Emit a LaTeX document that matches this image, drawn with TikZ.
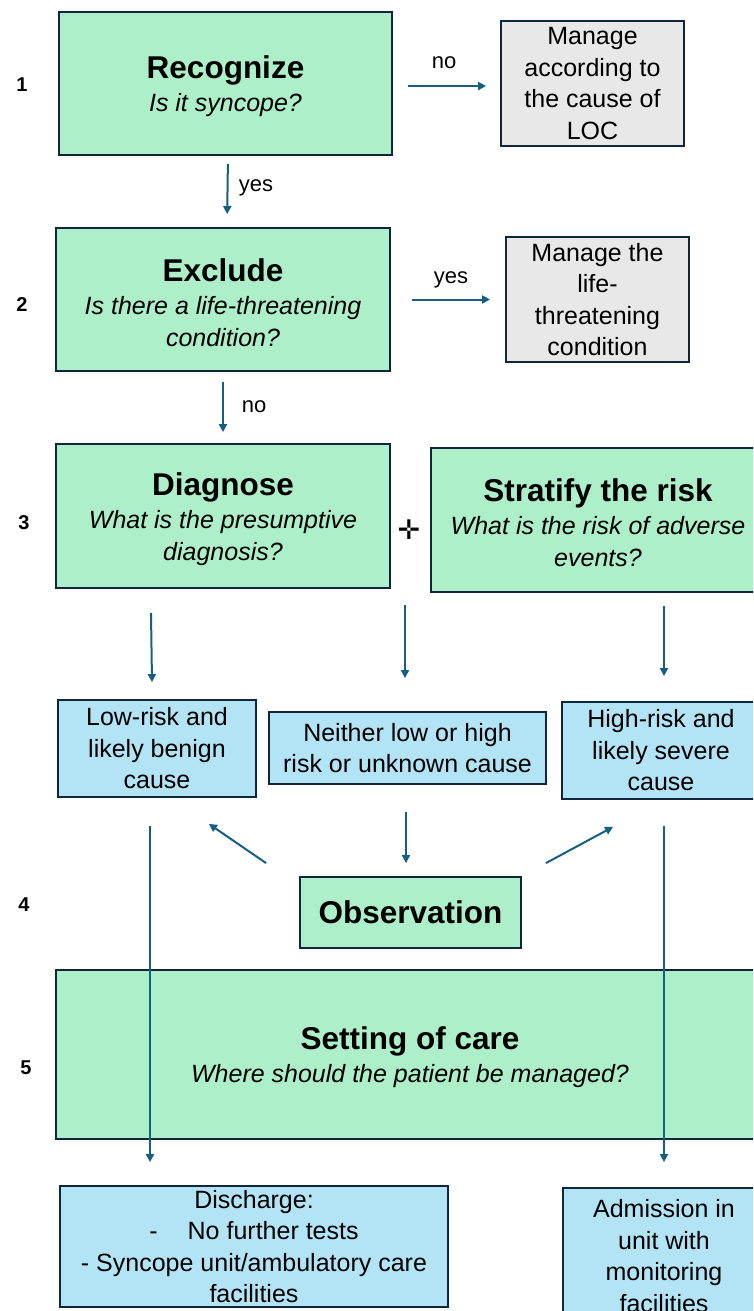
\documentclass[tikz,border=0pt]{standalone}
\usepackage{fontspec}
\setmainfont{Liberation Sans}
\newfontfamily\symfont{DejaVu Sans}
\usetikzlibrary{arrows.meta}
\definecolor{gfill}{HTML}{ADEFC8}
\definecolor{bfill}{HTML}{B3E4F5}
\definecolor{grfill}{HTML}{E8E8E8}
\definecolor{edge}{HTML}{10263B}
\definecolor{arrc}{HTML}{156082}
\tikzset{
  box/.style={draw=edge, line width=1.8pt, inner sep=0pt, align=center, text=black},
  gbox/.style={box, fill=gfill, font=\fontsize{25}{32}\selectfont\itshape},
  bbox/.style={box, fill=bfill, font=\fontsize{25}{31.5}\selectfont},
  greybox/.style={box, fill=grfill, font=\fontsize{25}{31.5}\selectfont},
  num/.style={font=\fontsize{20}{24}\selectfont\bfseries},
  lbl/.style={font=\fontsize{22}{26}\selectfont},
  arr/.style={draw=arrc, line width=2pt, -{Triangle[length=8pt,width=8pt]}},
}
\newcommand{\ttl}[1]{{\fontsize{31.5}{36}\selectfont\bfseries\upshape\rule{0pt}{29pt}#1}}
\begin{document}
\begin{tikzpicture}[x=1pt,y=-1pt]
\useasboundingbox (0,0) rectangle (753,1311);
\clip (0,0) rectangle (753,1311);
\fill[white] (0,0) rectangle (753,1311);

% step numbers
\node[num] (n1) at (22,85) {1};
\node[num] (n2) at (22,305) {2};
\node[num] (n3) at (24,523) {3};
\node[num] (n4) at (24,905) {4};
\node[num] (n5) at (26,1068) {5};

% row 1
\node[gbox, minimum width=333pt, minimum height=143pt] (rec) at (225.5,83.5)
  {\ttl{Recognize}\\[1pt]Is it syncope?};
\node[greybox, minimum width=183pt, minimum height=125pt] (g1) at (592.5,83.5)
  {Manage\\according to\\the cause of\\LOC};

% row 2
\node[gbox, minimum width=334pt, minimum height=143pt] (exc) at (223,299.5)
  {\ttl{Exclude}\\[1pt]Is there a life-threatening\\condition?};
\node[greybox, minimum width=183pt, minimum height=125pt] (g2) at (597.5,299.5)
  {Manage the\\life-\\threatening\\condition};

% row 3
\node[gbox, minimum width=334pt, minimum height=144pt] (dia) at (223,516)
  {\ttl{Diagnose}\\[1pt]What is the presumptive\\diagnosis?};
\node[gbox, minimum width=334pt, minimum height=144pt] (str) at (598,520)
  {\ttl{Stratify the risk}\\[1pt]What is the risk of adverse\\events?};
\node[font=\symfont\bfseries\fontsize{27}{30}\selectfont] (plus) at (409,530) {✛};

% risk boxes
\node[bbox, minimum width=198pt, minimum height=97pt] (low) at (157,748.5)
  {Low-risk and\\likely benign\\cause};
\node[bbox, minimum width=277pt, minimum height=72pt] (mid) at (407.5,748)
  {Neither low or high\\risk or unknown cause};
\node[bbox, minimum width=198pt, minimum height=97pt] (high) at (661,750.5)
  {High-risk and\\likely severe\\cause};

% observation
\node[box, fill=gfill, minimum width=221pt, minimum height=71pt, font=\fontsize{31.5}{36}\selectfont\bfseries] (obs) at (410.5,912.5) {Observation};

% setting of care
\node[gbox, minimum width=708pt, minimum height=169pt] (set) at (410,1054.5)
  {\ttl{Setting of care}\\[1pt]Where should the patient be managed?};

% outcome boxes
\node[bbox, minimum width=388pt, minimum height=121pt] (dis) at (254,1246.5)
  {Discharge:\\-\hspace{1.2em}No further tests\\- Syncope unit/ambulatory care\\facilities};
\node[bbox, minimum width=202pt, minimum height=136pt] (adm) at (664,1256)
  {Admission in\\unit with\\monitoring\\facilities};

% connectors
\draw[arr, shorten <=15pt, shorten >=14pt] ([yshift=-2.5pt]rec.east) -- ([yshift=-2.5pt]g1.west);
\node[lbl] (lno1) at (444,63) {no};
\draw[arr, shorten <=8pt, shorten >=13pt] ([xshift=2.5pt]rec.south) -- ([xshift=4pt]exc.north);
\node[lbl] (lyes1) at (256,188) {yes};
\draw[arr, shorten <=21pt, shorten >=15pt] (exc.east) -- (g2.west);
\node[lbl] (lyes2) at (451,280) {yes};
\draw[arr, shorten <=10pt, shorten >=11pt] (exc.south) -- (exc.south |- dia.north);
\node[lbl] (lno2) at (254,407) {no};

\draw[arr] ([shift={(-72,24)}]dia.south) -- ([shift={(-5,-17)}]low.north);
\draw[arr] ([shift={(-4,75)}]plus.center) -- ([shift={(-2.5,-33)}]mid.north);
\draw[arr] ([shift={(66,13)}]str.south) -- ([shift={(3,-25)}]high.north);

\draw[arr] ([shift={(-1.5,27)}]mid.south) -- ([shift={(-4.5,-13)}]obs.north);
\draw[arr] ([shift={(-33,-13)}]obs.north west) -- ([shift={(-48,26)}]low.south east);
\draw[arr] ([shift={(24,-13)}]obs.north east) -- ([shift={(52,27)}]high.south west);

\draw[arr] ([shift={(-7,28)}]low.south) -- ([shift={(-104,-23)}]dis.north);
\draw[arr] ([shift={(3,26)}]high.south) -- ([shift={(0,-25)}]adm.north);
\end{tikzpicture}
\end{document}
